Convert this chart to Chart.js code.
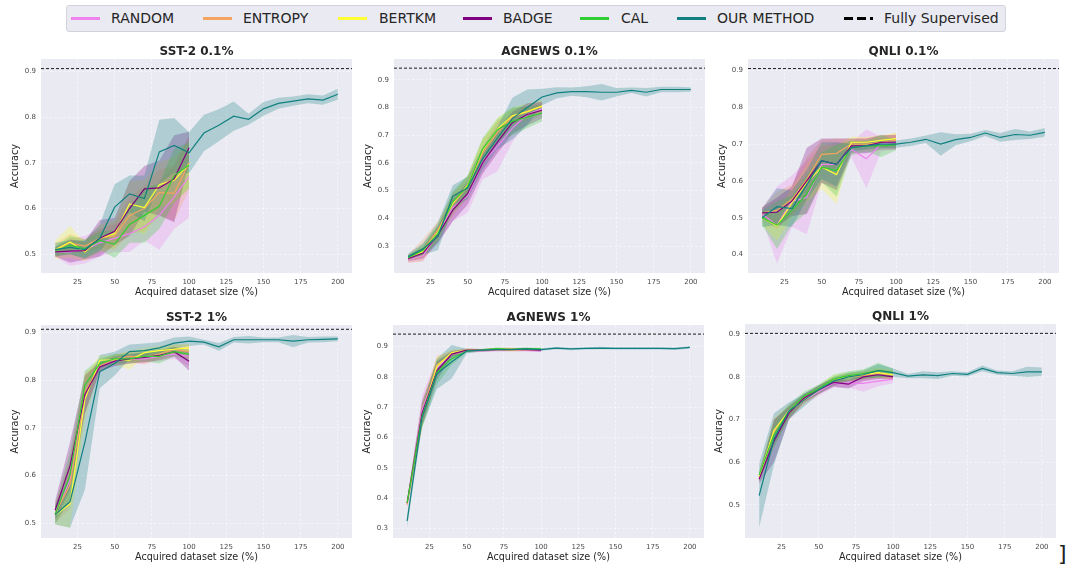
<!DOCTYPE html>
<html><head><meta charset="utf-8">
<script src="https://cdn.jsdelivr.net/npm/chart.js@4.4.1/dist/chart.umd.min.js"></script>
<style>
html,body{margin:0;padding:0;background:#fff;width:1068px;height:565px;overflow:hidden;font-family:"DejaVu Sans",sans-serif;}
canvas{position:absolute;}
#legend{position:absolute;left:66px;top:5px;width:938px;height:25px;background:#EAEAF2;border:1px solid #d2d2da;border-radius:3px;}
.lt{position:absolute;top:0;height:25px;line-height:25px;font-size:14px;color:#262626;white-space:nowrap;}
.sw{position:absolute;top:11px;height:3px;width:29px;}
#br{position:absolute;left:1058px;top:541px;font-size:22px;color:#222;font-family:"DejaVu Sans",sans-serif;}
</style></head>
<body>
<div id="legend"></div>
<span id="br">]</span>
<script>
// ---------- shared axes ----------
const X_BASE = [10,20,30,40,50,60,70,80,90,100];
const X_OURS = [10,20,30,40,50,60,70,80,90,100,110,120,130,140,150,160,170,180,190,200];
const X_TICKS = [25,50,75,100,125,150,175,200];
const X_RANGE = [0.5, 209.5];
const SERIES_NAMES = ['RANDOM','ENTROPY','BERTKM','BADGE','CAL','OUR METHOD'];
const SERIES_COLORS = ['#EE82EE','#F4A460','#FFFF33','#800080','#32CD32','#128080'];
const FULL_LABEL = 'Fully Supervised';

// ---------- SST-2 0.1% ----------
const sst01_title = 'SST-2 0.1%';
const sst01_yticks = [0.5,0.6,0.7,0.8,0.9];
const sst01_yrange = [0.459, 0.927];
const sst01_full = 0.906;
const sst01_random = [0.505,0.505,0.510,0.525,0.535,0.545,0.560,0.585,0.625,0.670];
const sst01_random_sd = [0.010,0.030,0.030,0.030,0.030,0.040,0.030,0.075,0.070,0.090];
const sst01_entropy = [0.508,0.525,0.518,0.535,0.540,0.585,0.600,0.635,0.633,0.700];
const sst01_entropy_sd = [0.015,0.020,0.015,0.020,0.030,0.040,0.050,0.050,0.060,0.060];
const sst01_bertkm = [0.510,0.527,0.505,0.535,0.545,0.610,0.602,0.652,0.662,0.697];
const sst01_bertkm_sd = [0.020,0.035,0.020,0.030,0.030,0.050,0.060,0.050,0.050,0.050];
const sst01_badge = [0.505,0.507,0.508,0.535,0.550,0.600,0.643,0.645,0.665,0.733];
const sst01_badge_sd = [0.010,0.025,0.020,0.040,0.030,0.060,0.050,0.060,0.095,0.035];
const sst01_cal = [0.507,0.520,0.512,0.530,0.522,0.565,0.585,0.605,0.672,0.695];
const sst01_cal_sd = [0.010,0.020,0.020,0.020,0.030,0.040,0.060,0.050,0.060,0.050];
const sst01_ours = [0.510,0.515,0.510,0.535,0.603,0.632,0.622,0.724,0.738,0.722,0.765,0.782,0.802,0.795,0.818,0.830,0.835,0.840,0.837,0.850];
const sst01_ours_sd = [0.015,0.015,0.020,0.030,0.050,0.040,0.050,0.070,0.060,0.045,0.040,0.035,0.032,0.012,0.015,0.012,0.010,0.010,0.010,0.012];

// ---------- AGNEWS 0.1% ----------
const ag01_title = 'AGNEWS 0.1%';
const ag01_yticks = [0.3,0.4,0.5,0.6,0.7,0.8,0.9];
const ag01_yrange = [0.203, 0.975];
const ag01_full = 0.942;
const ag01_random = [0.250,0.265,0.345,0.440,0.480,0.600,0.660,0.725,0.775,0.795];
const ag01_random_sd = [0.010,0.020,0.030,0.050,0.060,0.060,0.090,0.050,0.030,0.020];
const ag01_entropy = [0.255,0.285,0.360,0.450,0.515,0.635,0.710,0.765,0.785,0.805];
const ag01_entropy_sd = [0.015,0.040,0.030,0.040,0.040,0.050,0.040,0.030,0.020,0.020];
const ag01_bertkm = [0.255,0.280,0.350,0.455,0.520,0.645,0.722,0.770,0.785,0.805];
const ag01_bertkm_sd = [0.010,0.020,0.030,0.030,0.030,0.040,0.040,0.030,0.030,0.020];
const ag01_badge = [0.255,0.275,0.340,0.430,0.490,0.600,0.675,0.745,0.775,0.790];
const ag01_badge_sd = [0.010,0.020,0.030,0.040,0.040,0.040,0.040,0.040,0.040,0.030];
const ag01_cal = [0.258,0.285,0.345,0.460,0.515,0.650,0.720,0.750,0.765,0.780];
const ag01_cal_sd = [0.010,0.020,0.030,0.040,0.040,0.040,0.040,0.050,0.040,0.030];
const ag01_ours = [0.262,0.290,0.335,0.480,0.510,0.615,0.690,0.760,0.800,0.838,0.853,0.857,0.857,0.855,0.855,0.862,0.855,0.865,0.865,0.865];
const ag01_ours_sd = [0.010,0.020,0.050,0.040,0.040,0.040,0.040,0.075,0.065,0.030,0.020,0.015,0.020,0.030,0.015,0.010,0.015,0.010,0.010,0.008];

// ---------- QNLI 0.1% ----------
const qn01_title = 'QNLI 0.1%';
const qn01_yticks = [0.4,0.5,0.6,0.7,0.8,0.9];
const qn01_yrange = [0.35, 0.931];
const qn01_full = 0.905;
const qn01_random = [0.510,0.480,0.545,0.555,0.645,0.645,0.685,0.660,0.700,0.705];
const qn01_random_sd = [0.015,0.105,0.070,0.100,0.050,0.060,0.020,0.080,0.020,0.020];
const qn01_entropy = [0.513,0.520,0.550,0.605,0.672,0.675,0.700,0.700,0.705,0.710];
const qn01_entropy_sd = [0.015,0.050,0.040,0.060,0.040,0.040,0.015,0.015,0.015,0.020];
const qn01_bertkm = [0.500,0.478,0.540,0.595,0.638,0.617,0.705,0.705,0.710,0.715];
const qn01_bertkm_sd = [0.020,0.040,0.040,0.050,0.060,0.080,0.015,0.015,0.015,0.015];
const qn01_badge = [0.513,0.515,0.545,0.600,0.655,0.645,0.695,0.695,0.705,0.705];
const qn01_badge_sd = [0.015,0.040,0.040,0.090,0.060,0.070,0.020,0.020,0.020,0.020];
const qn01_cal = [0.500,0.480,0.520,0.565,0.637,0.628,0.690,0.695,0.695,0.698];
const qn01_cal_sd = [0.020,0.065,0.040,0.050,0.040,0.070,0.020,0.015,0.030,0.015];
const qn01_ours = [0.500,0.530,0.525,0.590,0.655,0.645,0.690,0.695,0.700,0.700,0.705,0.713,0.700,0.712,0.718,0.730,0.718,0.726,0.724,0.732];
const qn01_ours_sd = [0.025,0.050,0.050,0.040,0.050,0.060,0.010,0.010,0.010,0.010,0.010,0.010,0.032,0.015,0.010,0.008,0.012,0.015,0.010,0.012];

// ---------- SST-2 1% ----------
const sst1_title = 'SST-2 1%';
const sst1_yticks = [0.5,0.6,0.7,0.8,0.9];
const sst1_yrange = [0.4685, 0.916];
const sst1_full = 0.907;
const sst1_random = [0.520,0.590,0.770,0.830,0.840,0.845,0.845,0.850,0.855,0.850];
const sst1_random_sd = [0.020,0.050,0.040,0.010,0.010,0.010,0.010,0.010,0.010,0.020];
const sst1_entropy = [0.520,0.580,0.775,0.830,0.845,0.850,0.848,0.855,0.865,0.860];
const sst1_entropy_sd = [0.020,0.050,0.040,0.010,0.010,0.010,0.015,0.010,0.010,0.015];
const sst1_bertkm = [0.517,0.540,0.760,0.842,0.843,0.842,0.858,0.862,0.865,0.868];
const sst1_bertkm_sd = [0.020,0.050,0.050,0.010,0.010,0.020,0.010,0.010,0.010,0.008];
const sst1_badge = [0.527,0.620,0.770,0.828,0.840,0.845,0.848,0.852,0.860,0.840];
const sst1_badge_sd = [0.020,0.050,0.040,0.010,0.010,0.010,0.010,0.010,0.010,0.020];
const sst1_cal = [0.518,0.600,0.790,0.835,0.845,0.845,0.850,0.850,0.860,0.855];
const sst1_cal_sd = [0.020,0.050,0.030,0.010,0.010,0.010,0.010,0.015,0.010,0.010];
const sst1_ours = [0.517,0.545,0.670,0.818,0.835,0.860,0.862,0.868,0.878,0.882,0.880,0.870,0.885,0.885,0.885,0.885,0.882,0.885,0.886,0.887];
const sst1_ours_sd = [0.020,0.055,0.100,0.035,0.025,0.015,0.015,0.012,0.012,0.010,0.005,0.008,0.006,0.008,0.005,0.005,0.013,0.006,0.006,0.005];

// ---------- AGNEWS 1% ----------
const ag1_title = 'AGNEWS 1%';
const ag1_yticks = [0.3,0.4,0.5,0.6,0.7,0.8,0.9];
const ag1_yrange = [0.269, 0.971];
const ag1_full = 0.941;
const ag1_random = [0.380,0.690,0.830,0.875,0.885,0.886,0.887,0.887,0.887,0.886];
const ag1_random_sd = [0.010,0.050,0.030,0.010,0.005,0.004,0.004,0.004,0.004,0.004];
const ag1_entropy = [0.380,0.675,0.840,0.875,0.888,0.888,0.892,0.892,0.890,0.890];
const ag1_entropy_sd = [0.010,0.040,0.030,0.010,0.005,0.004,0.004,0.004,0.004,0.004];
const ag1_bertkm = [0.385,0.670,0.835,0.880,0.888,0.888,0.890,0.888,0.890,0.890];
const ag1_bertkm_sd = [0.010,0.040,0.030,0.010,0.005,0.004,0.004,0.004,0.004,0.004];
const ag1_badge = [0.385,0.680,0.820,0.875,0.888,0.888,0.890,0.890,0.890,0.888];
const ag1_badge_sd = [0.010,0.040,0.030,0.010,0.005,0.004,0.004,0.004,0.004,0.004];
const ag1_cal = [0.385,0.670,0.815,0.860,0.885,0.888,0.893,0.891,0.893,0.892];
const ag1_cal_sd = [0.010,0.040,0.040,0.020,0.005,0.004,0.004,0.004,0.004,0.004];
const ag1_ours = [0.325,0.665,0.810,0.850,0.885,0.888,0.890,0.890,0.892,0.890,0.895,0.892,0.894,0.895,0.894,0.894,0.894,0.894,0.893,0.897];
const ag1_ours_sd = [0.020,0.030,0.050,0.055,0.008,0.004,0.004,0.004,0.004,0.004,0.004,0.004,0.004,0.004,0.004,0.004,0.004,0.004,0.004,0.004];

// ---------- QNLI 1% ----------
const qn1_title = 'QNLI 1%';
const qn1_yticks = [0.5,0.6,0.7,0.8,0.9];
const qn1_yrange = [0.4225, 0.924];
const qn1_full = 0.902;
const qn1_random = [0.565,0.670,0.720,0.745,0.765,0.785,0.785,0.785,0.790,0.795];
const qn1_random_sd = [0.010,0.030,0.015,0.010,0.010,0.010,0.010,0.020,0.012,0.010];
const qn1_entropy = [0.565,0.670,0.715,0.750,0.770,0.790,0.800,0.803,0.808,0.805];
const qn1_entropy_sd = [0.010,0.030,0.015,0.010,0.010,0.010,0.010,0.010,0.010,0.010];
const qn1_bertkm = [0.565,0.675,0.720,0.745,0.770,0.795,0.800,0.805,0.810,0.805];
const qn1_bertkm_sd = [0.010,0.030,0.015,0.010,0.010,0.010,0.010,0.010,0.012,0.012];
const qn1_badge = [0.560,0.650,0.715,0.750,0.770,0.787,0.783,0.800,0.805,0.800];
const qn1_badge_sd = [0.010,0.050,0.015,0.010,0.010,0.010,0.010,0.010,0.010,0.005];
const qn1_cal = [0.570,0.665,0.720,0.755,0.772,0.795,0.803,0.808,0.815,0.810];
const qn1_cal_sd = [0.010,0.030,0.015,0.010,0.010,0.010,0.010,0.010,0.018,0.010];
const qn1_ours = [0.522,0.655,0.720,0.745,0.770,0.790,0.800,0.805,0.815,0.810,0.802,0.805,0.803,0.808,0.806,0.820,0.810,0.808,0.812,0.812];
const qn1_ours_sd = [0.075,0.060,0.020,0.015,0.010,0.010,0.010,0.010,0.015,0.010,0.005,0.008,0.008,0.005,0.005,0.007,0.005,0.005,0.012,0.010];

// ---------- layout ----------
const FONT = '"DejaVu Sans", sans-serif';
const PANEL_BOX = [ // plot-area left, top, width, height
  [41, 59, 311, 214], [394, 59, 311, 214], [748, 59, 311, 214],
  [41, 325, 311, 213], [393, 325, 311, 213], [745, 324, 311, 214]
];
const YW = 40, XH = 28, TH = 15, PR = 4;

const PANELS = [
  {title: sst01_title, yticks: sst01_yticks, yrange: sst01_yrange, full: sst01_full,
   means: [sst01_random, sst01_entropy, sst01_bertkm, sst01_badge, sst01_cal, sst01_ours],
   sds: [sst01_random_sd, sst01_entropy_sd, sst01_bertkm_sd, sst01_badge_sd, sst01_cal_sd, sst01_ours_sd]},
  {title: ag01_title, yticks: ag01_yticks, yrange: ag01_yrange, full: ag01_full,
   means: [ag01_random, ag01_entropy, ag01_bertkm, ag01_badge, ag01_cal, ag01_ours],
   sds: [ag01_random_sd, ag01_entropy_sd, ag01_bertkm_sd, ag01_badge_sd, ag01_cal_sd, ag01_ours_sd]},
  {title: qn01_title, yticks: qn01_yticks, yrange: qn01_yrange, full: qn01_full,
   means: [qn01_random, qn01_entropy, qn01_bertkm, qn01_badge, qn01_cal, qn01_ours],
   sds: [qn01_random_sd, qn01_entropy_sd, qn01_bertkm_sd, qn01_badge_sd, qn01_cal_sd, qn01_ours_sd]},
  {title: sst1_title, yticks: sst1_yticks, yrange: sst1_yrange, full: sst1_full,
   means: [sst1_random, sst1_entropy, sst1_bertkm, sst1_badge, sst1_cal, sst1_ours],
   sds: [sst1_random_sd, sst1_entropy_sd, sst1_bertkm_sd, sst1_badge_sd, sst1_cal_sd, sst1_ours_sd]},
  {title: ag1_title, yticks: ag1_yticks, yrange: ag1_yrange, full: ag1_full,
   means: [ag1_random, ag1_entropy, ag1_bertkm, ag1_badge, ag1_cal, ag1_ours],
   sds: [ag1_random_sd, ag1_entropy_sd, ag1_bertkm_sd, ag1_badge_sd, ag1_cal_sd, ag1_ours_sd]},
  {title: qn1_title, yticks: qn1_yticks, yrange: qn1_yrange, full: qn1_full,
   means: [qn1_random, qn1_entropy, qn1_bertkm, qn1_badge, qn1_cal, qn1_ours],
   sds: [qn1_random_sd, qn1_entropy_sd, qn1_bertkm_sd, qn1_badge_sd, qn1_cal_sd, qn1_ours_sd]}
];

function rgba(hex, a) {
  const n = parseInt(hex.slice(1), 16);
  return `rgba(${(n>>16)&255},${(n>>8)&255},${n&255},${a})`;
}

const plotBg = {
  id: 'plotBg',
  beforeDraw(chart) {
    const {ctx, chartArea: a} = chart;
    ctx.save(); ctx.fillStyle = '#EAEAF2';
    ctx.fillRect(a.left, a.top, a.width, a.height); ctx.restore();
  }
};

const GRID = {color: 'rgba(255,255,255,0.85)', lineWidth: 0.6, drawTicks: false, tickLength: 0};
const BORDER = {display: false, dash: [2.5, 2]};

function makePanel(i, p) {
  const [L, T, W, H] = PANEL_BOX[i];
  const c = document.createElement('canvas');
  c.width = YW + W + PR; c.height = TH + H + XH;
  c.style.left = (L - YW) + 'px'; c.style.top = (T - TH) + 'px';
  c.style.width = c.width + 'px'; c.style.height = c.height + 'px';
  document.body.appendChild(c);

  const datasets = [];
  datasets.push({label: FULL_LABEL, data: [{x: X_RANGE[0], y: p.full}, {x: X_RANGE[1], y: p.full}],
    borderColor: '#1a1a1a', borderWidth: 1, borderDash: [3, 2], pointRadius: 0, fill: false, order: -1});
  SERIES_NAMES.forEach((name, k) => {
    const xs = k === 5 ? X_OURS : X_BASE;
    const m = p.means[k], sd = p.sds[k], col = SERIES_COLORS[k];
    const lowIdx = datasets.length;
    datasets.push({label: name + ' lo', data: xs.map((x, j) => ({x, y: m[j] - sd[j]})),
      borderColor: 'rgba(0,0,0,0)', borderWidth: 0, pointRadius: 0, fill: false, order: 30});
    datasets.push({label: name + ' hi', data: xs.map((x, j) => ({x, y: m[j] + sd[j]})),
      borderColor: 'rgba(0,0,0,0)', borderWidth: 0, pointRadius: 0, fill: lowIdx,
      backgroundColor: rgba(col, 0.27), order: 20 - k});
    datasets.push({label: name, data: xs.map((x, j) => ({x, y: m[j]})),
      borderColor: col, borderWidth: 1.2, pointRadius: 0, fill: false, order: 5 - k});
  });

  new Chart(c, {
    type: 'line',
    data: {datasets},
    plugins: [plotBg],
    options: {
      responsive: false, animation: false, devicePixelRatio: 1,
      layout: {padding: {left: 0, right: PR, top: 0, bottom: 0}},
      plugins: {
        legend: {display: false}, tooltip: {enabled: false},
        title: {display: true, text: p.title, fullSize: false, color: '#262626',
          font: {size: 12, weight: 'bold', family: FONT, lineHeight: 1.25}, padding: {top: 0, bottom: 0}}
      },
      scales: {
        x: {type: 'linear', min: X_RANGE[0], max: X_RANGE[1],
          afterBuildTicks: s => { s.ticks = X_TICKS.map(v => ({value: v})); },
          afterFit: s => { s.height = XH; },
          grid: GRID, border: BORDER,
          ticks: {font: {size: 7, family: FONT}, color: '#4a4a4a', padding: 5, maxRotation: 0, autoSkip: false},
          title: {display: true, text: 'Acquired dataset size (%)', color: '#262626',
            font: {size: 9.6, family: FONT}, padding: {top: 0, bottom: 2.5}}},
        y: {type: 'linear', min: p.yrange[0], max: p.yrange[1],
          afterBuildTicks: s => { s.ticks = p.yticks.map(v => ({value: v})); },
          afterFit: s => { s.width = YW; },
          grid: GRID, border: BORDER,
          ticks: {font: {size: 7, family: FONT}, color: '#4a4a4a', padding: 5, callback: v => Number(v).toFixed(1)},
          title: {display: true, text: 'Accuracy', color: '#262626',
            font: {size: 9.6, family: FONT}, padding: {top: 9, bottom: 0}}}
      }
    }
  });
}

PANELS.forEach((p, i) => makePanel(i, p));

// ---------- legend ----------
const LEGEND_X = [[71, 111], [203, 243], [338, 379], [463, 503], [580, 621], [677, 717], [844, 884]];
const lg = document.getElementById('legend');
const entries = SERIES_NAMES.map((n, k) => ({name: n, color: SERIES_COLORS[k], dashed: false}))
  .concat([{name: FULL_LABEL, color: '#000', dashed: true}]);
entries.forEach((e, k) => {
  const sw = document.createElement('div');
  sw.className = 'sw';
  sw.style.left = (LEGEND_X[k][0] - 67) + 'px';
  sw.style.background = e.dashed
    ? 'repeating-linear-gradient(90deg,#000 0 9px,transparent 9px 13px)' : e.color;
  lg.appendChild(sw);
  const t = document.createElement('div');
  t.className = 'lt';
  t.style.left = (LEGEND_X[k][1] - 67) + 'px';
  t.textContent = e.name;
  lg.appendChild(t);
});
</script>
</body></html>
